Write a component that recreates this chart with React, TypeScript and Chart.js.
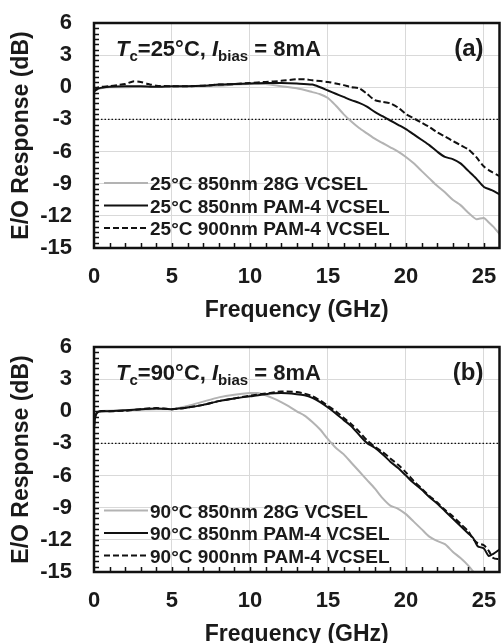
import React, { useEffect, useRef } from 'react';
import { Chart, registerables } from 'chart.js';

Chart.register(...registerables);

const FONT = "'Liberation Sans', Arial, Helvetica, sans-serif";
const TEXT = '#1a1a1a';
const GRAY = '#b3b3b3';

// ---------- Panel (a): Tc = 25°C ----------
const freqA28G = [0, 0.3, 1, 2, 3, 4, 5, 6, 7, 8, 9, 10, 11, 12, 13, 14, 14.5, 15, 15.5, 16, 16.5, 17, 17.5, 18, 18.5, 19, 19.5, 20, 20.5, 21, 21.5, 22, 22.5, 23, 23.5, 24, 24.5, 25, 25.3, 25.6, 26];
const respA28G = [-0.4, -0.15, 0, 0, 0.05, 0.05, 0.05, 0.1, 0.1, 0.15, 0.25, 0.3, 0.3, 0.1, -0.1, -0.45, -0.65, -1.0, -1.7, -2.5, -3.2, -3.8, -4.3, -4.8, -5.2, -5.6, -6.0, -6.5, -7.1, -7.8, -8.5, -9.2, -9.8, -10.5, -11.0, -11.7, -12.3, -12.2, -12.6, -13.0, -13.7];

const freqA850 = [0, 0.3, 1, 2, 3, 4, 5, 6, 7, 8, 9, 10, 11, 12, 13, 14, 14.5, 15, 15.5, 16, 16.5, 17, 17.5, 18, 18.5, 19, 19.5, 20, 20.5, 21, 21.5, 22, 22.5, 23, 23.5, 24, 24.5, 25, 25.5, 26];
const respA850 = [-0.4, -0.1, 0.05, 0.1, 0.1, 0.05, 0.1, 0.1, 0.15, 0.25, 0.3, 0.35, 0.4, 0.4, 0.35, 0.25, 0.0, -0.3, -0.6, -0.9, -1.2, -1.45, -1.8, -2.3, -2.7, -3.1, -3.5, -3.9, -4.4, -4.9, -5.4, -6.0, -6.5, -6.7, -7.1, -7.8, -8.5, -9.3, -9.6, -10.0];

const freqA900 = [0, 0.3, 1, 1.5, 2, 2.5, 3, 3.5, 4, 5, 6, 7, 8, 9, 10, 11, 12, 13, 13.5, 14, 15, 15.5, 16, 16.5, 17, 17.5, 18, 18.5, 19, 19.5, 20, 20.5, 21, 21.5, 22, 22.5, 23, 23.5, 24, 24.5, 25, 25.5, 26];
const respA900 = [-0.3, 0, 0.1, 0.2, 0.3, 0.55, 0.5, 0.3, 0.15, 0.1, 0.1, 0.15, 0.25, 0.3, 0.4, 0.5, 0.6, 0.75, 0.75, 0.65, 0.5, 0.35, 0.2, 0.0, -0.1, -0.6, -1.2, -1.35, -1.5, -1.9, -2.5, -2.9, -3.3, -3.7, -4.2, -4.6, -5.0, -5.4, -5.8, -6.5, -7.4, -7.9, -8.3];

// ---------- Panel (b): Tc = 90°C ----------
const freqB28G = [0, 0.1, 0.3, 1, 2, 3, 4, 5, 6, 7, 8, 9, 10, 10.5, 11, 11.5, 12, 12.5, 13, 13.5, 14, 14.5, 15, 15.5, 16, 16.5, 17, 17.5, 18, 18.5, 19, 19.5, 20, 20.5, 21, 21.5, 22, 22.5, 23, 23.5, 24, 24.5, 25];
const respB28G = [-1.2, -0.3, 0, 0.05, 0.1, 0.15, 0.2, 0.2, 0.5, 0.9, 1.3, 1.55, 1.7, 1.7, 1.5, 1.2, 0.85, 0.45, 0.0, -0.4, -1.0, -1.7, -2.6, -3.4, -4.0, -4.8, -5.6, -6.4, -7.2, -8.1, -8.8, -9.1, -9.6, -10.3, -11.0, -11.7, -12.1, -12.4, -13.1, -13.7, -14.4, -15.3, -16.2];

const freqB850 = [0, 0.1, 0.3, 1, 2, 3, 4, 5, 6, 7, 8, 9, 10, 11, 12, 13, 13.5, 14, 14.5, 15, 15.5, 16, 16.5, 17, 17.5, 18, 18.5, 19, 19.5, 20, 20.5, 21, 21.5, 22, 22.5, 23, 23.5, 24, 24.3, 24.6, 25, 25.3, 25.6, 26];
const respB850 = [-1.5, -0.4, -0.05, 0, 0.1, 0.2, 0.25, 0.2, 0.35, 0.6, 0.95, 1.2, 1.4, 1.6, 1.7, 1.6, 1.5, 1.25, 0.85, 0.35, -0.2, -0.8, -1.4, -2.2, -2.95, -3.4, -4.0, -4.7, -5.3, -6.0, -6.7, -7.3, -8.0, -8.6, -9.3, -10.0, -10.7, -11.4, -11.8, -12.6, -12.8, -13.5, -13.3, -12.9];

const freqB900 = [0, 0.1, 0.3, 1, 2, 3, 4, 5, 6, 7, 8, 9, 10, 11, 12, 13, 13.5, 14, 14.5, 15, 15.5, 16, 16.5, 17, 17.5, 18, 18.5, 19, 19.5, 20, 20.5, 21, 21.5, 22, 22.5, 23, 23.5, 24, 24.3, 24.6, 25, 25.3, 25.6, 26];
const respB900 = [-1.5, -0.4, 0, 0, 0.05, 0.2, 0.3, 0.2, 0.35, 0.6, 0.95, 1.2, 1.45, 1.65, 1.85, 1.8, 1.65, 1.4, 1.0, 0.5, 0.0, -0.6, -1.2, -1.9, -2.7, -3.3, -3.8, -4.4, -5.0, -5.7, -6.5, -7.2, -7.9, -8.5, -9.2, -9.8, -10.5, -11.2, -11.9, -12.3, -12.5, -13.0, -13.7, -13.8];

// ---------- Axes ----------
const X_MIN = 0;
const X_MAX = 26;
const X_STEP = 5;
const Y_MIN = -15;
const Y_MAX = 6;
const Y_STEP = 3;
const REF_LEVEL = -3;

const legendA = ['25°C 850nm 28G VCSEL', '25°C 850nm PAM-4 VCSEL', '25°C 900nm PAM-4 VCSEL'];
const legendB = ['90°C 850nm 28G VCSEL', '90°C 850nm PAM-4 VCSEL', '90°C 900nm PAM-4 VCSEL'];

const toPts = (xs: number[], ys: number[]) => xs.map((x, i) => ({ x, y: ys[i] }));

type PanelProps = {
  temp: string;
  letter: string;
  legend: string[];
  s28g: { x: number; y: number }[];
  s850: { x: number; y: number }[];
  s900: { x: number; y: number }[];
  legendDy: number;
};

function drawAnnotation(ctx: CanvasRenderingContext2D, x: number, y: number, temp: string) {
  const big = `bold 22px ${FONT}`;
  const bigI = `italic bold 22px ${FONT}`;
  const sub = `bold 15px ${FONT}`;
  const parts = [
    { t: 'T', f: bigI, dy: 0 },
    { t: 'c', f: sub, dy: 5 },
    { t: `=${temp}°C, `, f: big, dy: 0 },
    { t: 'I', f: bigI, dy: 0 },
    { t: 'bias', f: sub, dy: 5 },
    { t: ' = 8mA', f: big, dy: 0 },
  ];
  let cx = x;
  ctx.fillStyle = TEXT;
  ctx.textBaseline = 'alphabetic';
  ctx.textAlign = 'left';
  for (const p of parts) {
    ctx.font = p.f;
    ctx.fillText(p.t, cx, y + p.dy);
    cx += ctx.measureText(p.t).width;
  }
}

function Panel(props: PanelProps) {
  const ref = useRef<HTMLCanvasElement | null>(null);
  useEffect(() => {
    if (!ref.current) return;
    const overlay = {
      id: 'overlay',
      beforeDatasetsDraw(chart: any) {
        const { ctx, chartArea: a, scales } = chart;
        const y = scales.y.getPixelForValue(REF_LEVEL);
        ctx.save();
        ctx.strokeStyle = '#111';
        ctx.lineWidth = 1.2;
        ctx.setLineDash([1.5, 2]);
        ctx.beginPath();
        ctx.moveTo(a.left, y);
        ctx.lineTo(a.right, y);
        ctx.stroke();
        ctx.restore();
      },
      afterDatasetsDraw(chart: any) {
        const { ctx, chartArea: a, scales } = chart;
        ctx.save();
        // minor ticks
        ctx.strokeStyle = '#111';
        ctx.lineWidth = 1.5;
        ctx.beginPath();
        for (let v = X_MIN + 1; v < X_MAX; v += 1) {
          const px = Math.round(scales.x.getPixelForValue(v)) + 0.5;
          ctx.moveTo(px, a.bottom);
          ctx.lineTo(px, a.bottom - 5);
        }
        for (let v = Y_MIN + 0.5; v < Y_MAX; v += 0.5) {
          const py = Math.round(scales.y.getPixelForValue(v)) + 0.5;
          ctx.moveTo(a.left, py);
          ctx.lineTo(a.left + 5, py);
        }
        ctx.stroke();
        // frame
        ctx.lineWidth = 2.5;
        ctx.strokeStyle = '#111';
        ctx.strokeRect(a.left, a.top, a.right - a.left, a.bottom - a.top);
        // annotation
        drawAnnotation(ctx, a.left + 22, a.top + 33, props.temp);
        ctx.font = `bold 24px ${FONT}`;
        ctx.textAlign = 'right';
        ctx.fillText(`(${props.letter})`, a.right - 16, a.top + 33);
        // legend
        const styles = [
          { c: GRAY, d: [] as number[] },
          { c: '#111', d: [] as number[] },
          { c: '#111', d: [6, 3] },
        ];
        const rows = [160, 182.5, 205].map((r) => a.top + r + props.legendDy);
        ctx.font = `bold 19px ${FONT}`;
        ctx.textAlign = 'left';
        ctx.textBaseline = 'alphabetic';
        rows.forEach((ry, i) => {
          ctx.strokeStyle = styles[i].c;
          ctx.lineWidth = 2;
          ctx.setLineDash(styles[i].d);
          ctx.beginPath();
          ctx.moveTo(a.left + 10, ry);
          ctx.lineTo(a.left + 54, ry);
          ctx.stroke();
          ctx.setLineDash([]);
          ctx.fillStyle = TEXT;
          ctx.fillText(props.legend[i], a.left + 56, ry + 7);
        });
        ctx.restore();
      },
    };

    const chart = new Chart(ref.current, {
      type: 'line',
      data: {
        datasets: [
          { label: props.legend[2], data: props.s900, borderColor: '#111', borderWidth: 2, borderDash: [6, 3], pointRadius: 0, tension: 0.25, fill: false },
          { label: props.legend[1], data: props.s850, borderColor: '#111', borderWidth: 2, pointRadius: 0, tension: 0.25, fill: false },
          { label: props.legend[0], data: props.s28g, borderColor: GRAY, borderWidth: 2, pointRadius: 0, tension: 0.25, fill: false },
        ],
      },
      options: {
        responsive: false,
        animation: false,
        devicePixelRatio: 1,
        layout: { padding: { top: 23, right: 1.5, left: 0, bottom: 0 } },
        plugins: { legend: { display: false }, tooltip: { enabled: false } },
        scales: {
          x: {
            type: 'linear',
            min: X_MIN,
            max: X_MAX,
            ticks: {
              stepSize: X_STEP,
              includeBounds: false,
              autoSkip: false,
              maxRotation: 0,
              padding: 16,
              color: TEXT,
              font: { family: FONT, size: 22, weight: 'bold' },
            },
            grid: { color: '#d9d9d9', lineWidth: 1, drawTicks: false },
            border: { display: false },
            title: {
              display: true,
              text: 'Frequency (GHz)',
              color: TEXT,
              font: { family: FONT, size: 23, weight: 'bold' },
              padding: { top: 0, bottom: 0 },
            },
            afterFit: (s: any) => {
              s.height = 76;
              s.paddingLeft = 0;
              s.paddingRight = 0;
            },
          },
          y: {
            type: 'linear',
            min: Y_MIN,
            max: Y_MAX,
            ticks: {
              stepSize: Y_STEP,
              padding: 22,
              color: TEXT,
              font: { family: FONT, size: 22, weight: 'bold' },
            },
            grid: { color: '#d9d9d9', lineWidth: 1, drawTicks: false },
            border: { display: false },
            title: {
              display: true,
              text: 'E/O Response (dB)',
              color: TEXT,
              font: { family: FONT, size: 23, weight: 'bold' },
              padding: { top: 8, bottom: 0 },
            },
            afterFit: (s: any) => {
              s.width = 94;
              s.paddingTop = 0;
              s.paddingBottom = 0;
            },
          },
        },
      },
      plugins: [overlay],
    } as any);
    return () => chart.destroy();
  }, []);
  return <canvas ref={ref} width={501} height={324} style={{ display: 'block', width: 501, height: 324 }} />;
}

export default function App() {
  return (
    <div style={{ position: 'fixed', left: 0, top: 0, width: 501, height: 643, overflow: 'hidden', background: '#fff' }}>
      <div style={{ position: 'absolute', left: 0, top: 0 }}>
        <Panel temp="25" letter="a" legend={legendA} s28g={toPts(freqA28G, respA28G)} s850={toPts(freqA850, respA850)} s900={toPts(freqA900, respA900)} legendDy={0} />
      </div>
      <div style={{ position: 'absolute', left: 0, top: 324 }}>
        <Panel temp="90" letter="b" legend={legendB} s28g={toPts(freqB28G, respB28G)} s850={toPts(freqB850, respB850)} s900={toPts(freqB900, respB900)} legendDy={3.5} />
      </div>
    </div>
  );
}
